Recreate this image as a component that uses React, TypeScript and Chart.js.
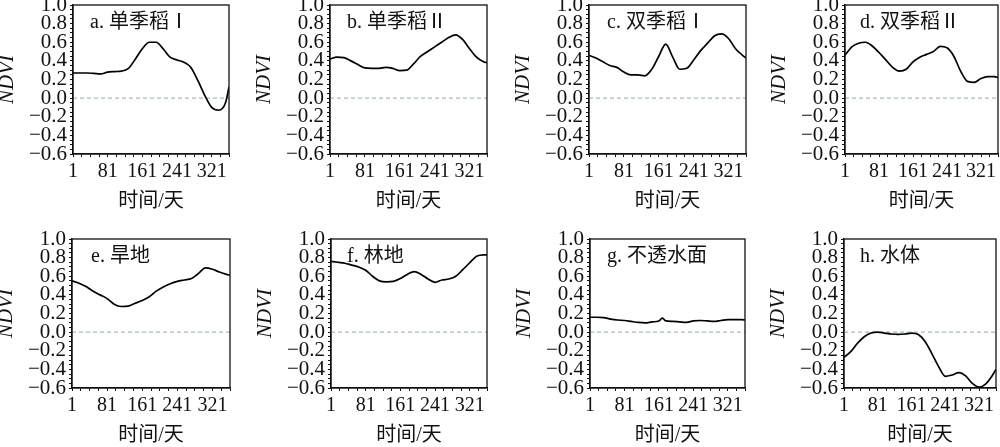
import React, { useEffect, useRef } from "react";
import { Chart, registerables } from "chart.js";

Chart.register(...registerables);

// ---------- data ----------
const DAYS = [1, 17, 33, 49, 65, 81, 97, 113, 129, 145, 161, 177, 193, 209, 225, 241, 257, 273, 289, 305, 321, 337, 353, 361];
const DAYS_G = [1, 17, 33, 49, 65, 81, 97, 113, 129, 145, 161, 169, 177, 193, 209, 225, 241, 257, 273, 289, 305, 321, 337, 353, 361];

const ndviA = [0.27, 0.27, 0.27, 0.265, 0.26, 0.28, 0.285, 0.29, 0.32, 0.42, 0.53, 0.6, 0.6, 0.53, 0.44, 0.41, 0.385, 0.33, 0.19, 0.03, -0.1, -0.13, -0.05, 0.12];
const ndviB = [0.42, 0.44, 0.435, 0.4, 0.36, 0.325, 0.32, 0.32, 0.33, 0.32, 0.295, 0.3, 0.37, 0.45, 0.5, 0.55, 0.6, 0.65, 0.68, 0.63, 0.53, 0.44, 0.39, 0.38];
const ndviC = [0.46, 0.43, 0.39, 0.35, 0.33, 0.28, 0.25, 0.25, 0.24, 0.31, 0.45, 0.58, 0.44, 0.31, 0.32, 0.41, 0.51, 0.59, 0.67, 0.69, 0.64, 0.53, 0.46, 0.43];
const ndviD = [0.46, 0.55, 0.59, 0.6, 0.56, 0.49, 0.41, 0.33, 0.29, 0.31, 0.39, 0.44, 0.47, 0.5, 0.555, 0.54, 0.45, 0.29, 0.18, 0.17, 0.21, 0.23, 0.23, 0.22];
const ndviE = [0.55, 0.525, 0.49, 0.44, 0.4, 0.36, 0.3, 0.275, 0.28, 0.31, 0.34, 0.38, 0.44, 0.485, 0.52, 0.545, 0.56, 0.575, 0.63, 0.69, 0.675, 0.645, 0.62, 0.61];
const ndviF = [0.76, 0.75, 0.74, 0.72, 0.7, 0.665, 0.6, 0.55, 0.54, 0.545, 0.575, 0.62, 0.65, 0.62, 0.57, 0.535, 0.56, 0.57, 0.6, 0.67, 0.745, 0.815, 0.83, 0.83];
const ndviG = [0.16, 0.16, 0.155, 0.14, 0.13, 0.125, 0.115, 0.105, 0.1, 0.11, 0.12, 0.15, 0.12, 0.115, 0.11, 0.105, 0.12, 0.125, 0.12, 0.115, 0.125, 0.135, 0.135, 0.135, 0.13];
const ndviH = [-0.27, -0.21, -0.12, -0.05, -0.01, 0.0, -0.01, -0.02, -0.025, -0.02, -0.01, -0.025, -0.1, -0.23, -0.37, -0.475, -0.46, -0.435, -0.47, -0.55, -0.59, -0.555, -0.46, -0.4];

const TITLES = ["a. 单季稻Ⅰ", "b. 单季稻Ⅱ", "c. 双季稻Ⅰ", "d. 双季稻Ⅱ", "e. 旱地", "f. 林地", "g. 不透水面", "h. 水体"];

const ZERO_DAYS = [1, 361];
const ZERO_VALUES = [0, 0];

const X_MINOR_TICKS = [1, 21, 41, 61, 81, 101, 121, 141, 161, 181, 201, 221, 241, 261, 281, 301, 321, 341, 361];
const X_LABELS = [1, 81, 161, 241, 321];
const Y_MINOR_TICKS = [
  -0.6, -0.55, -0.5, -0.45, -0.4, -0.35, -0.3, -0.25, -0.2, -0.15, -0.1, -0.05, 0,
  0.05, 0.1, 0.15, 0.2, 0.25, 0.3, 0.35, 0.4, 0.45, 0.5, 0.55, 0.6, 0.65, 0.7, 0.75, 0.8, 0.85, 0.9, 0.95, 1.0,
];
const Y_LABELS = [-0.6, -0.4, -0.2, 0, 0.2, 0.4, 0.6, 0.8, 1.0];

const X_TITLE = "时间/天";
const Y_TITLE = "NDVI";

// ---------- layout ----------
type PanelSpec = {
  title: string;
  days: number[];
  values: number[];
  L: number; R: number; T: number; B: number;
  tdx: number;
};

const PANELS: PanelSpec[] = [
  { title: TITLES[0], days: DAYS, values: ndviA, L: 73, R: 229, T: 5, B: 154, tdx: 17 },
  { title: TITLES[1], days: DAYS, values: ndviB, L: 330, R: 487, T: 5, B: 154, tdx: 17 },
  { title: TITLES[2], days: DAYS, values: ndviC, L: 589, R: 746, T: 5, B: 154, tdx: 18 },
  { title: TITLES[3], days: DAYS, values: ndviD, L: 845, R: 998, T: 5, B: 154, tdx: 15 },
  { title: TITLES[4], days: DAYS, values: ndviE, L: 72, R: 230, T: 239, B: 388, tdx: 19 },
  { title: TITLES[5], days: DAYS, values: ndviF, L: 331, R: 487, T: 239, B: 388, tdx: 16 },
  { title: TITLES[6], days: DAYS_G, values: ndviG, L: 590, R: 745, T: 239, B: 388, tdx: 17 },
  { title: TITLES[7], days: DAYS, values: ndviH, L: 844, R: 996, T: 239, B: 388, tdx: 16 },
];

const Y_W = 80;
const PAD_T = 15;
const PAD_R = 15;
const X_H = 70;

const SERIF = '"Liberation Serif", "Times New Roman", serif';
const TEXT_COLOR = "#111";

function fmtY(v: number): string {
  const s = Math.abs(v).toFixed(1);
  return v < -1e-9 ? "\u2212" + s : s;
}

function Panel({ p }: { p: PanelSpec }) {
  const ref = useRef<HTMLCanvasElement>(null);
  const w = p.R - p.L + Y_W + PAD_R;
  const h = p.B - p.T + PAD_T + X_H;

  useEffect(() => {
    const canvas = ref.current!;
    const framePlugin = {
      id: "frameAndTitle",
      afterDatasetsDraw(chart: any) {
        const { ctx, chartArea } = chart;
        ctx.save();
        ctx.font = '20px "Liberation Serif", "Noto Sans CJK SC", serif';
        ctx.fillStyle = TEXT_COLOR;
        ctx.textBaseline = "middle";
        ctx.textAlign = "left";
        ctx.fillText(p.title, chartArea.left + p.tdx, chartArea.top + 18);
        ctx.restore();
      },
      afterDraw(chart: any) {
        const { ctx, chartArea } = chart;
        ctx.save();
        ctx.strokeStyle = "#111";
        ctx.lineWidth = 1.3;
        ctx.strokeRect(chartArea.left, chartArea.top, chartArea.right - chartArea.left, chartArea.bottom - chartArea.top);
        ctx.restore();
      },
    };

    const chart = new Chart(canvas, {
      type: "line",
      data: {
        datasets: [
          {
            data: p.days.map((d, i) => ({ x: d, y: p.values[i] })),
            borderColor: "#000",
            borderWidth: 1.7,
            pointRadius: 0,
            fill: false,
            cubicInterpolationMode: "monotone",
          },
          {
            data: ZERO_DAYS.map((d, i) => ({ x: d, y: ZERO_VALUES[i] })),
            borderColor: "#a9babd",
            borderWidth: 1.2,
            borderDash: [4, 3],
            pointRadius: 0,
            fill: false,
          },
        ],
      },
      options: {
        responsive: false,
        animation: false,
        events: [],
        layout: { padding: { left: 0, top: PAD_T, right: PAD_R, bottom: 0 } },
        plugins: { legend: { display: false }, tooltip: { enabled: false }, title: { display: false } },
        scales: {
          x: {
            type: "linear",
            min: 1,
            max: 361,
            afterBuildTicks: (s: any) => {
              s.ticks = X_MINOR_TICKS.map((v) => ({ value: v }));
            },
            afterFit: (s: any) => {
              s.height = X_H;
              s.paddingLeft = 0;
              s.paddingRight = 0;
              s.paddingTop = 0;
              s.paddingBottom = 0;
            },
            ticks: {
              autoSkip: false,
              maxRotation: 0,
              minRotation: 0,
              padding: 5,
              color: TEXT_COLOR,
              font: { family: SERIF, size: 20, lineHeight: 1 },
              callback: (v: any) => (X_LABELS.includes(Number(v)) ? String(v) : ""),
            },
            grid: { display: true, drawOnChartArea: false, drawTicks: true, tickLength: 3, color: "#111", lineWidth: 1 },
            border: { display: true, color: "#111", width: 1.3 },
            title: {
              display: true,
              text: X_TITLE,
              color: TEXT_COLOR,
              font: { family: '"Liberation Serif", "Noto Sans CJK SC", serif', size: 20, lineHeight: 1 },
              padding: { top: 0, bottom: 12.5 },
            },
          },
          y: {
            type: "linear",
            min: -0.6,
            max: 1.0,
            afterBuildTicks: (s: any) => {
              s.ticks = Y_MINOR_TICKS.map((v) => ({ value: v }));
            },
            afterFit: (s: any) => {
              s.width = Y_W;
              s.paddingLeft = 0;
              s.paddingRight = 0;
              s.paddingTop = 0;
              s.paddingBottom = 0;
            },
            ticks: {
              autoSkip: false,
              padding: 3,
              color: TEXT_COLOR,
              font: { family: SERIF, size: 21, lineHeight: 1 },
              callback: (v: any) => {
                const n = Number(v);
                return Y_LABELS.some((l) => Math.abs(l - n) < 1e-6) ? fmtY(n) : "";
              },
            },
            grid: { display: true, drawOnChartArea: false, drawTicks: true, tickLength: 3, color: "#111", lineWidth: 1 },
            border: { display: true, color: "#111", width: 1.3 },
            title: {
              display: true,
              text: Y_TITLE,
              color: TEXT_COLOR,
              font: { family: SERIF, size: 21, style: "italic", lineHeight: 1 },
              padding: { top: 4, bottom: 0 },
            },
          },
        },
      } as any,
      plugins: [framePlugin],
    });
    return () => chart.destroy();
  }, []);

  return (
    <canvas
      ref={ref}
      width={w}
      height={h}
      style={{ position: "absolute", left: p.L - Y_W, top: p.T - PAD_T, width: w, height: h }}
    />
  );
}

export default function App() {
  return (
    <div
      style={{
        position: "absolute",
        left: 0,
        top: 0,
        width: 1000,
        height: 447,
        overflow: "hidden",
        background: "#fff",
      }}
    >
      {PANELS.map((p, i) => (
        <Panel key={i} p={p} />
      ))}
    </div>
  );
}
